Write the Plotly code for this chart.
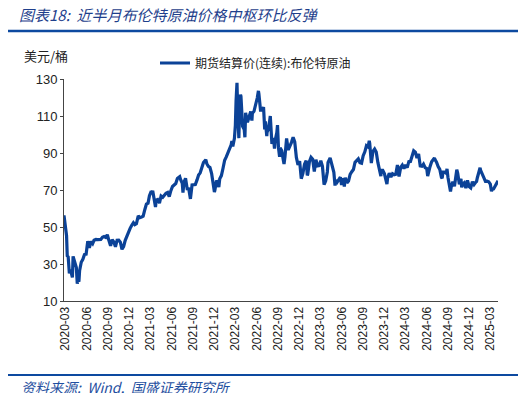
#!/usr/bin/env python3

import plotly.graph_objs as go

# 布伦特原油期货结算价(连续), 美元/桶 (weekly-ish readings)
dates_2020 = ["2020-02-24", "2020-02-28", "2020-03-06", "2020-03-09", "2020-03-13",
              "2020-03-18", "2020-03-20", "2020-03-27", "2020-03-31", "2020-04-02",
              "2020-04-03", "2020-04-09", "2020-04-17", "2020-04-21", "2020-04-24",
              "2020-04-28", "2020-05-01", "2020-05-08", "2020-05-15", "2020-05-22",
              "2020-05-29", "2020-06-05", "2020-06-12", "2020-06-19", "2020-06-26",
              "2020-07-02", "2020-07-10", "2020-07-17", "2020-07-24", "2020-07-31",
              "2020-08-07", "2020-08-14", "2020-08-21", "2020-08-28", "2020-09-04",
              "2020-09-08", "2020-09-11", "2020-09-18", "2020-09-25", "2020-10-02",
              "2020-10-09", "2020-10-16", "2020-10-23", "2020-10-30", "2020-11-06",
              "2020-11-13", "2020-11-20", "2020-11-27", "2020-12-04", "2020-12-11",
              "2020-12-18", "2020-12-24", "2020-12-31"]
price_2020 = [56.30, 50.52, 45.27, 34.36, 33.85,
              24.88, 26.98, 24.93, 22.74, 29.94,
              34.11, 31.48, 28.08, 19.33, 21.44,
              20.46, 26.44, 30.97, 32.50, 35.13,
              35.33, 42.30, 38.73, 42.19, 41.02,
              42.80, 43.24, 43.14, 43.34, 43.30,
              44.40, 44.80, 44.35, 45.81, 42.66,
              39.78, 39.83, 43.15, 41.92, 39.27,
              42.85, 42.93, 41.77, 37.94, 39.45,
              42.78, 44.96, 48.18, 49.25, 50.97,
              52.26, 51.29, 51.80]

dates_2021 = ["2021-01-08", "2021-01-15", "2021-01-22", "2021-01-29", "2021-02-05",
              "2021-02-12", "2021-02-19", "2021-02-25", "2021-03-05", "2021-03-08",
              "2021-03-11", "2021-03-19", "2021-03-23", "2021-03-26", "2021-04-01",
              "2021-04-09", "2021-04-16", "2021-04-23", "2021-04-30", "2021-05-07",
              "2021-05-14", "2021-05-21", "2021-05-28", "2021-06-04", "2021-06-11",
              "2021-06-18", "2021-06-25", "2021-07-05", "2021-07-09", "2021-07-16",
              "2021-07-19", "2021-07-23", "2021-07-30", "2021-08-06", "2021-08-13",
              "2021-08-20", "2021-08-27", "2021-09-03", "2021-09-10", "2021-09-17",
              "2021-09-24", "2021-10-01", "2021-10-08", "2021-10-15", "2021-10-25",
              "2021-10-29", "2021-11-05", "2021-11-12", "2021-11-19", "2021-11-26",
              "2021-12-01", "2021-12-03", "2021-12-10", "2021-12-17", "2021-12-20",
              "2021-12-24", "2021-12-31"]
price_2021 = [55.99, 55.10, 55.41, 55.88, 59.34,
              62.43, 62.91, 66.88, 69.36, 68.24,
              69.63, 64.53, 60.79, 64.57, 64.86,
              62.95, 66.77, 66.11, 67.25, 68.28,
              68.71, 66.44, 69.63, 71.89, 72.69,
              73.51, 76.18, 77.16, 75.55, 73.59,
              68.62, 74.10, 76.33, 70.70, 70.59,
              65.18, 72.70, 72.61, 72.92, 75.34,
              78.09, 79.28, 82.39, 84.86, 86.40,
              84.38, 82.74, 82.17, 78.89, 72.72,
              68.87, 69.88, 75.15, 73.52, 71.52,
              76.14, 77.78]

dates_2022 = ["2022-01-07", "2022-01-14", "2022-01-21", "2022-01-28", "2022-02-04",
              "2022-02-11", "2022-02-14", "2022-02-18", "2022-02-25", "2022-03-01",
              "2022-03-04", "2022-03-08", "2022-03-11", "2022-03-16", "2022-03-18",
              "2022-03-23", "2022-03-25", "2022-04-01", "2022-04-08", "2022-04-11",
              "2022-04-14", "2022-04-22", "2022-04-29", "2022-05-06", "2022-05-11",
              "2022-05-13", "2022-05-20", "2022-05-27", "2022-06-03", "2022-06-08",
              "2022-06-10", "2022-06-17", "2022-06-24", "2022-06-30", "2022-07-05",
              "2022-07-08", "2022-07-14", "2022-07-15", "2022-07-22", "2022-07-29",
              "2022-08-05", "2022-08-12", "2022-08-16", "2022-08-19", "2022-08-26",
              "2022-08-29", "2022-09-02", "2022-09-07", "2022-09-09", "2022-09-16",
              "2022-09-23", "2022-09-26", "2022-09-30", "2022-10-07", "2022-10-14",
              "2022-10-21", "2022-10-28", "2022-11-04", "2022-11-11", "2022-11-18",
              "2022-11-25", "2022-12-02", "2022-12-07", "2022-12-09", "2022-12-16",
              "2022-12-23", "2022-12-30"]
price_2022 = [81.75, 86.06, 87.89, 90.03, 93.27,
              94.44, 96.48, 93.54, 97.93, 104.97,
              118.11, 127.98, 112.67, 98.02, 107.93,
              121.60, 120.65, 104.39, 102.78, 98.48,
              111.70, 106.65, 109.34, 112.39, 107.51,
              111.55, 112.55, 115.56, 119.72, 123.58,
              122.01, 113.12, 113.12, 114.81, 102.77,
              107.02, 99.10, 101.16, 103.20, 110.01,
              94.92, 98.15, 92.34, 96.72, 100.99,
              105.09, 93.02, 88.00, 92.84, 91.35,
              86.15, 84.06, 87.96, 97.92, 91.63,
              93.50, 95.77, 98.57, 95.99, 87.62,
              83.63, 85.57, 77.17, 76.10, 79.04,
              83.92, 85.91]

dates_2023 = ["2023-01-04", "2023-01-06", "2023-01-13", "2023-01-20", "2023-01-27",
              "2023-02-03", "2023-02-10", "2023-02-17", "2023-02-24", "2023-03-03",
              "2023-03-10", "2023-03-15", "2023-03-17", "2023-03-20", "2023-03-24",
              "2023-03-31", "2023-04-03", "2023-04-12", "2023-04-14", "2023-04-21",
              "2023-04-28", "2023-05-03", "2023-05-05", "2023-05-12", "2023-05-19",
              "2023-05-26", "2023-05-31", "2023-06-02", "2023-06-09", "2023-06-12",
              "2023-06-16", "2023-06-23", "2023-06-30", "2023-07-07", "2023-07-14",
              "2023-07-21", "2023-07-28", "2023-08-04", "2023-08-11", "2023-08-18",
              "2023-08-25", "2023-09-01", "2023-09-08", "2023-09-15", "2023-09-22",
              "2023-09-27", "2023-09-29", "2023-10-06", "2023-10-13", "2023-10-20",
              "2023-10-27", "2023-11-03", "2023-11-10", "2023-11-16", "2023-11-17",
              "2023-11-24", "2023-12-01", "2023-12-08", "2023-12-12", "2023-12-15",
              "2023-12-22", "2023-12-29"]
price_2023 = [77.84, 78.57, 85.28, 87.63, 86.66,
              79.94, 86.39, 83.00, 83.16, 85.83,
              82.78, 73.69, 72.97, 73.79, 74.99,
              79.77, 84.93, 87.33, 86.31, 81.66,
              79.54, 72.33, 75.30, 74.17, 75.58,
              76.95, 72.66, 76.13, 74.79, 71.84,
              76.61, 73.85, 74.90, 78.47, 79.87,
              81.07, 84.99, 86.24, 86.81, 84.80,
              84.48, 88.55, 90.65, 93.93, 93.27,
              96.55, 95.31, 84.58, 90.89, 92.16,
              90.48, 84.89, 81.43, 77.42, 80.61,
              80.58, 78.88, 75.84, 73.24, 76.55,
              79.07, 77.04]

dates_2024 = ["2024-01-05", "2024-01-12", "2024-01-19", "2024-01-26", "2024-02-02",
              "2024-02-09", "2024-02-16", "2024-02-23", "2024-03-01", "2024-03-08",
              "2024-03-15", "2024-03-22", "2024-03-28", "2024-04-05", "2024-04-12",
              "2024-04-19", "2024-04-26", "2024-05-03", "2024-05-10", "2024-05-17",
              "2024-05-24", "2024-05-31", "2024-06-04", "2024-06-07", "2024-06-14",
              "2024-06-21", "2024-06-28", "2024-07-03", "2024-07-05", "2024-07-12",
              "2024-07-19", "2024-07-26", "2024-08-02", "2024-08-05", "2024-08-09",
              "2024-08-16", "2024-08-23", "2024-08-26", "2024-08-30", "2024-09-06",
              "2024-09-10", "2024-09-13", "2024-09-20", "2024-09-27", "2024-10-04",
              "2024-10-07", "2024-10-11", "2024-10-18", "2024-10-25", "2024-10-28",
              "2024-11-01", "2024-11-08", "2024-11-15", "2024-11-22", "2024-11-29",
              "2024-12-06", "2024-12-13", "2024-12-20", "2024-12-27", "2024-12-31"]
price_2024 = [78.76, 78.29, 78.56, 83.55, 77.33,
              82.19, 83.47, 81.62, 83.55, 82.08,
              85.34, 85.43, 87.48, 91.17, 90.45,
              87.29, 89.50, 82.96, 82.79, 83.98,
              82.12, 81.62, 77.52, 79.62, 82.62,
              85.24, 86.41, 87.34, 86.54, 85.03,
              82.63, 81.13, 76.81, 76.30, 79.66,
              79.68, 79.02, 81.43, 76.93, 71.06,
              69.19, 71.61, 74.49, 71.98, 78.05,
              80.93, 79.04, 73.06, 76.05, 71.42,
              73.10, 73.87, 71.04, 75.17, 71.84,
              71.12, 74.49, 72.94, 74.17, 74.64]

dates_2025 = ["2025-01-03", "2025-01-10", "2025-01-15", "2025-01-17", "2025-01-24",
              "2025-01-31", "2025-02-07", "2025-02-14", "2025-02-21", "2025-02-28",
              "2025-03-05", "2025-03-07", "2025-03-14", "2025-03-21", "2025-03-28",
              "2025-03-31", "2025-04-02"]
price_2025 = [76.51, 79.76, 82.03, 80.79, 78.50,
              76.76, 74.66, 74.74, 74.43, 73.18,
              69.30, 70.36, 70.58, 72.16, 73.63,
              74.74, 74.95]

tick_dates = ["2020-03-01", "2020-06-01", "2020-09-01", "2020-12-01",
              "2021-03-01", "2021-06-01", "2021-09-01", "2021-12-01",
              "2022-03-01", "2022-06-01", "2022-09-01", "2022-12-01",
              "2023-03-01", "2023-06-01", "2023-09-01", "2023-12-01",
              "2024-03-01", "2024-06-01", "2024-09-01", "2024-12-01",
              "2025-03-01"]
tick_labels = [d[:7] for d in tick_dates]

# the page body keeps its default 8px margin, so the figure is drawn 8px in
OFF = 8
W, H = 526 - 2 * OFF, 401 - 2 * OFF
L, R, T, B = 64 - OFF, 498 - OFF, 79 - OFF, 301 - OFF


def px(x):
    return (x - OFF - L) / (R - L)


def py(y):
    return (B - (y - OFF)) / (B - T)


def main():
    dates = dates_2020 + dates_2021 + dates_2022 + dates_2023 + dates_2024 + dates_2025
    prices = price_2020 + price_2021 + price_2022 + price_2023 + price_2024 + price_2025

    blue = "#0B4297"
    trace = go.Scatter(x=dates, y=prices, mode="lines",
                       line=dict(color=blue, width=3.2),
                       name="期货结算价(连续):布伦特原油")

    layout = go.Layout(
        width=W, height=H, autosize=False,
        margin=dict(l=L, r=W - R, t=T, b=H - B, pad=0),
        paper_bgcolor="white", plot_bgcolor="white",
        font=dict(family="Liberation Sans, Noto Sans CJK SC", size=12, color="#222"),
        showlegend=True,
        legend=dict(x=px(155), y=py(63), xanchor="left", yanchor="middle",
                    orientation="h", bgcolor="rgba(0,0,0,0)",
                    font=dict(family="Noto Sans CJK SC", size=12, color="#222")),
        xaxis=dict(type="date", range=["2020-02-24", "2025-04-02"],
                   tickvals=tick_dates, ticktext=tick_labels, tickangle=-90,
                   ticks="", showgrid=False, zeroline=False,
                   showline=True, linecolor="#444", linewidth=1,
                   tickfont=dict(size=12, color="#222")),
        yaxis=dict(range=[10, 130], tickvals=[10, 30, 50, 70, 90, 110, 130],
                   ticks="outside", ticklen=3, tickcolor="#444",
                   showgrid=False, zeroline=False,
                   showline=True, linecolor="#444", linewidth=1,
                   tickfont=dict(size=13, color="#222")),
        shapes=[
            dict(type="line", xref="paper", yref="paper",
                 x0=px(5), x1=px(518), y0=py(31), y1=py(31),
                 line=dict(color="#0D4AA0", width=2.5)),
            dict(type="line", xref="paper", yref="paper",
                 x0=px(5), x1=px(518), y0=py(375), y1=py(375),
                 line=dict(color="#0D4AA0", width=2)),
        ],
        annotations=[
            dict(text="图表18:  近半月布伦特原油价格中枢环比反弹",
                 xref="paper", yref="paper", x=px(17), y=py(14),
                 xanchor="left", yanchor="middle", showarrow=False,
                 font=dict(family="Noto Sans CJK SC", size=15, color="#1F3F8C",
                           style="italic")),
            dict(text="美元/桶",
                 xref="paper", yref="paper", x=px(22), y=py(56),
                 xanchor="left", yanchor="middle", showarrow=False,
                 font=dict(family="Noto Sans CJK SC", size=13, color="#222")),
            dict(text="资料来源:  Wind,  国盛证券研究所",
                 xref="paper", yref="paper", x=px(19), y=py(387),
                 xanchor="left", yanchor="middle", showarrow=False,
                 font=dict(family="Noto Sans CJK SC", size=14, color="#1F4FA0",
                           style="italic")),
        ],
    )
    fig = go.Figure(data=[trace], layout=layout)
    fig.write_html("out.html")


if __name__ == "__main__":
    main()
